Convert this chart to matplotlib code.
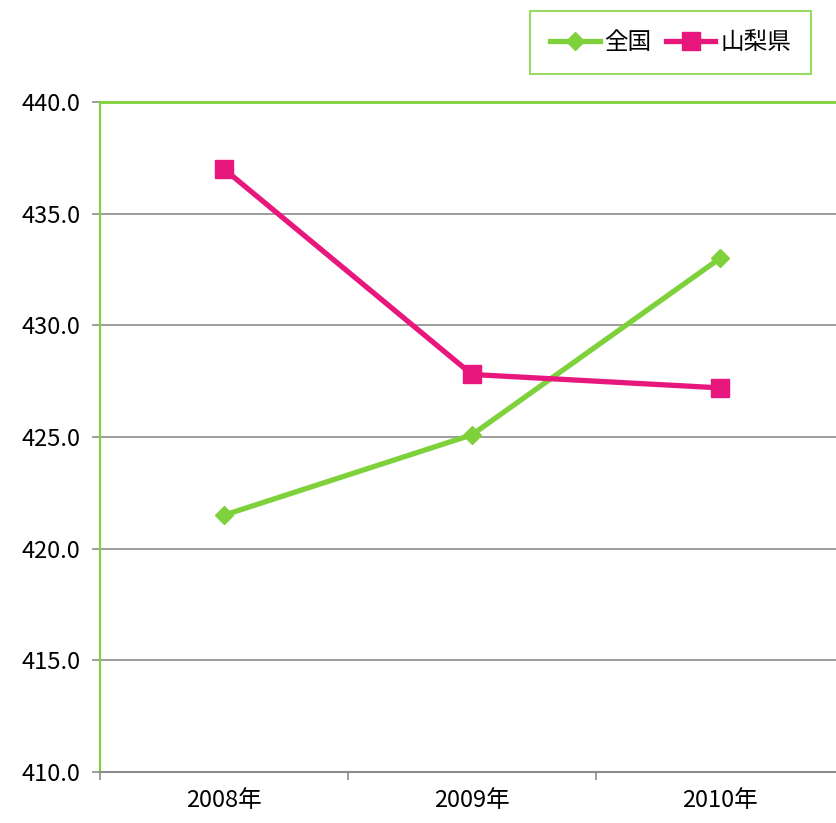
import matplotlib
matplotlib.use("Agg")
import matplotlib.pyplot as plt

plt.rcParams["font.family"] = ["Noto Sans CJK JP", "DejaVu Sans"]

years = ["2008年", "2009年", "2010年"]
national = [421.5, 425.1, 433.0]
yamanashi = [437.0, 427.8, 427.2]
yticks = [410.0, 415.0, 420.0, 425.0, 430.0, 435.0, 440.0]

GREEN = "#7FD13B"
PINK = "#E8177D"
GRID = "#8C8C8C"

fig = plt.figure(figsize=(8.37, 8.23), dpi=100)
ax = fig.add_axes([100 / 837, 1 - 772 / 823, 744 / 837, 670 / 823])

x = range(len(years))
ax.plot(x, national, color=GREEN, lw=3.8, marker="D", ms=9, mec=GREEN, mfc=GREEN, label="全国", zorder=3)
ax.plot(x, yamanashi, color=PINK, lw=3.8, marker="s", ms=13, mec=PINK, mfc=PINK, label="山梨県", zorder=3)

ax.set_xlim(-0.5, 2.5)
ax.set_ylim(410, 440)
ax.set_yticks(yticks)
ax.set_yticklabels([f"{v:.1f}" for v in yticks], fontsize=17)
ax.set_xticks([0, 1, 2])
ax.set_xticklabels(years, fontsize=17)
ax.set_xticks([-0.5, 0.5, 1.5, 2.5], minor=True)
ax.tick_params(axis="x", which="major", length=0, pad=12)
ax.tick_params(axis="x", which="minor", length=6, color=GRID, width=1.2)
ax.tick_params(axis="y", length=6, color=GRID, width=1.2, pad=8)

ax.grid(axis="y", color=GRID, lw=1.2)
ax.set_axisbelow(True)
ax.spines["left"].set_color(GREEN)
ax.spines["left"].set_linewidth(1.5)
ax.spines["top"].set_color(GREEN)
ax.spines["top"].set_linewidth(2)
ax.spines["bottom"].set_color(GRID)
ax.spines["bottom"].set_linewidth(1.5)
ax.spines["right"].set_visible(False)

leg = fig.legend(loc="upper right", bbox_to_anchor=(811 / 837, 1 - 11 / 823), ncol=2,
                 prop={"size": 17}, frameon=True, fancybox=False, handlelength=2.1,
                 handletextpad=0.2, columnspacing=0.6, borderpad=0.85, borderaxespad=0)
leg.get_frame().set_edgecolor(GREEN)
leg.get_frame().set_linewidth(1.5)

fig.savefig("out.png", dpi=100)
